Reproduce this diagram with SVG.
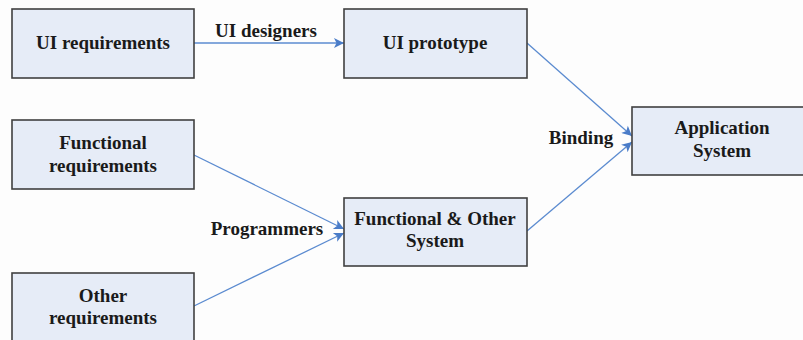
<svg xmlns="http://www.w3.org/2000/svg" width="803" height="340" viewBox="0 0 803 340">
  <style>
    .box { fill: #e6ecf7; stroke: #404040; stroke-width: 1.6; }
    .txt { font-family: "Liberation Serif", "Times New Roman", serif; font-weight: bold; font-size: 19px; fill: #1a1a1a; text-anchor: middle; }
    .edge { stroke: #5b8bd0; stroke-width: 1.3; fill: none; marker-end: url(#arrow); }
  </style>
  <defs>
    <marker id="arrow" viewBox="0 0 10 10" refX="10" refY="5" markerWidth="12" markerHeight="10" markerUnits="userSpaceOnUse" orient="auto">
      <path d="M0,0 L10,5 L0,10 L2.5,5 Z" fill="#4a7cc8"/>
    </marker>
  </defs>
  <rect width="803" height="340" fill="#fdfdfd"/>

  <g id="connectors">
    <line class="edge" x1="194" y1="43" x2="344" y2="43"/>
    <line class="edge" x1="527" y1="43" x2="632" y2="136"/>
    <line class="edge" x1="527" y1="231" x2="632" y2="142"/>
    <line class="edge" x1="194" y1="155" x2="344" y2="229"/>
    <line class="edge" x1="194" y1="306" x2="344" y2="233"/>
    <text class="txt" x="266" y="37">UI designers</text>
    <text class="txt" x="581" y="144">Binding</text>
    <text class="txt" x="267" y="235">Programmers</text>
  </g>

  <g id="ui-requirements">
    <rect class="box" x="12" y="9" width="182" height="69"/>
    <text class="txt" x="103" y="49">UI requirements</text>
  </g>

  <g id="ui-prototype">
    <rect class="box" x="344" y="9" width="183" height="69"/>
    <text class="txt" x="435" y="49">UI prototype</text>
  </g>

  <g id="application-system">
    <rect class="box" x="632" y="107" width="172" height="68"/>
    <text class="txt" x="722" y="134">Application</text>
    <text class="txt" x="722" y="157">System</text>
  </g>

  <g id="functional-requirements">
    <rect class="box" x="12" y="120" width="182" height="69"/>
    <text class="txt" x="103" y="149">Functional</text>
    <text class="txt" x="103" y="172">requirements</text>
  </g>

  <g id="functional-other-system">
    <rect class="box" x="344" y="198" width="183" height="68"/>
    <text class="txt" x="435" y="225">Functional &amp; Other</text>
    <text class="txt" x="435" y="247">System</text>
  </g>

  <g id="other-requirements">
    <rect class="box" x="12" y="273" width="182" height="80"/>
    <text class="txt" x="103" y="302">Other</text>
    <text class="txt" x="103" y="324">requirements</text>
  </g>
</svg>
